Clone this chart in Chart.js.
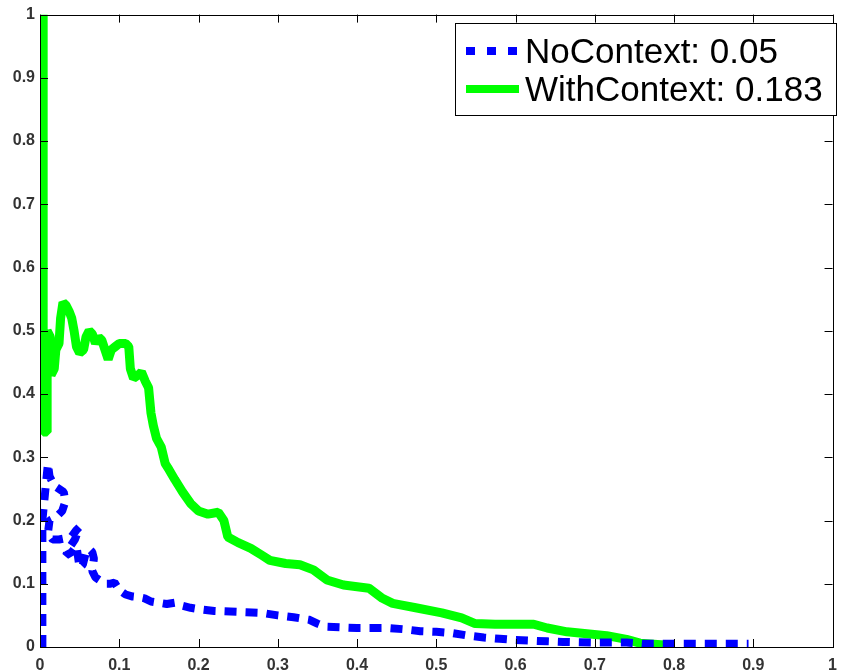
<!DOCTYPE html>
<html>
<head>
<meta charset="utf-8">
<title>NoContext vs WithContext</title>
<script src="https://cdn.jsdelivr.net/npm/chart.js"></script>
<style>
  html, body { margin: 0; padding: 0; background: #fff; }
  #wrap { width: 846px; height: 671px; }
</style>
</head>
<body>
<div id="wrap"><canvas id="grafico" width="846" height="671"></canvas></div>
<script>
// series labels
const seriesLabels = ['NoContext: 0.05', 'WithContext: 0.183'];

// tick labels
const xTickLabels = ['0', '0.1', '0.2', '0.3', '0.4', '0.5', '0.6', '0.7', '0.8', '0.9', '1'];
const yTickLabels = ['0', '0.1', '0.2', '0.3', '0.4', '0.5', '0.6', '0.7', '0.8', '0.9', '1'];

// NoContext (blue, dashed)
const noCtxX = [0.003, 0.003, 0.003, 0.010, 0.012, 0.018, 0.024, 0.030, 0.032, 0.028, 0.020, 0.012, 0.010, 0.016,
  0.024, 0.032, 0.040, 0.046, 0.050, 0.044, 0.036, 0.033, 0.040, 0.046, 0.050, 0.054, 0.058, 0.062, 0.066, 0.068,
  0.066, 0.070, 0.076, 0.082, 0.088, 0.094, 0.100, 0.108, 0.116, 0.124, 0.132, 0.140, 0.150, 0.160, 0.170, 0.180,
  0.190, 0.200, 0.220, 0.240, 0.260, 0.280, 0.300, 0.320, 0.340, 0.350, 0.360, 0.380, 0.400, 0.420, 0.440, 0.460,
  0.480, 0.500, 0.520, 0.540, 0.560, 0.580, 0.600, 0.620, 0.640, 0.660, 0.700, 0.740, 0.760, 0.800, 0.850, 0.894];
const noCtxY = [0, 0.10, 0.20, 0.29, 0.27, 0.255, 0.25, 0.245, 0.23, 0.215, 0.205, 0.20, 0.18, 0.17,
  0.17, 0.172, 0.175, 0.185, 0.19, 0.17, 0.155, 0.145, 0.15, 0.16, 0.125, 0.13, 0.15, 0.155, 0.15, 0.14,
  0.12, 0.11, 0.105, 0.10, 0.10, 0.102, 0.09, 0.083, 0.08, 0.079, 0.077, 0.072, 0.07, 0.068, 0.07, 0.065,
  0.062, 0.06, 0.057, 0.056, 0.055, 0.054, 0.05, 0.047, 0.043, 0.037, 0.032, 0.031, 0.030, 0.030, 0.030, 0.028,
  0.025, 0.024, 0.022, 0.018, 0.015, 0.013, 0.011, 0.010, 0.009, 0.008, 0.007, 0.007, 0.005, 0.005, 0.005, 0.005];

// WithContext (green, solid)
const withCtxX = [0.004, 0.004, 0.009, 0.009, 0.013, 0.014, 0.018, 0.020, 0.024, 0.026, 0.029, 0.033, 0.037, 0.040,
  0.043, 0.046, 0.050, 0.055, 0.058, 0.062, 0.066, 0.070, 0.074, 0.078, 0.082, 0.086, 0.090, 0.095, 0.100, 0.108,
  0.112, 0.114, 0.118, 0.124, 0.128, 0.133, 0.137, 0.140, 0.143, 0.147, 0.153, 0.158, 0.163, 0.170, 0.180, 0.190,
  0.200, 0.212, 0.225, 0.232, 0.237, 0.250, 0.266, 0.280, 0.290, 0.310, 0.328, 0.345, 0.362, 0.383, 0.415, 0.432,
  0.445, 0.474, 0.507, 0.532, 0.549, 0.574, 0.623, 0.640, 0.665, 0.690, 0.715, 0.740, 0.757, 0.788];
const withCtxY = [1, 0.34, 0.34, 0.50, 0.49, 0.43, 0.44, 0.47, 0.48, 0.52, 0.545, 0.54, 0.53, 0.52,
  0.50, 0.475, 0.465, 0.47, 0.49, 0.50, 0.495, 0.48, 0.49, 0.485, 0.47, 0.455, 0.47, 0.475, 0.48, 0.48,
  0.475, 0.44, 0.425, 0.43, 0.435, 0.42, 0.41, 0.37, 0.35, 0.33, 0.316, 0.29, 0.28, 0.265, 0.245, 0.227,
  0.215, 0.21, 0.213, 0.20, 0.174, 0.165, 0.156, 0.145, 0.137, 0.132, 0.13, 0.122, 0.106, 0.098, 0.093, 0.077,
  0.069, 0.062, 0.054, 0.046, 0.037, 0.036, 0.036, 0.030, 0.024, 0.021, 0.018, 0.012, 0.006, 0.003];

const toPoints = (xs, ys) => xs.map((x, i) => ({ x: x, y: ys[i] }));

// box, inward ticks on all four sides, legend inside the axes
const axesDecor = {
  id: 'axesDecor',
  afterDatasetsDraw(chart) {
    const ctx = chart.ctx;
    const a = chart.chartArea;
    const sx = chart.scales.x, sy = chart.scales.y;
    const tl = 8;
    ctx.save();
    ctx.strokeStyle = '#000';
    ctx.lineWidth = 1;
    ctx.beginPath();
    xTickLabels.forEach((_, i) => {
      const px = Math.round(sx.getPixelForValue(i / 10)) + 0.5;
      ctx.moveTo(px, a.bottom); ctx.lineTo(px, a.bottom - tl);
      ctx.moveTo(px, a.top); ctx.lineTo(px, a.top + tl);
    });
    yTickLabels.forEach((_, i) => {
      const py = Math.round(sy.getPixelForValue(i / 10)) + 0.5;
      ctx.moveTo(a.left, py); ctx.lineTo(a.left + tl, py);
      ctx.moveTo(a.right, py); ctx.lineTo(a.right - tl, py);
    });
    ctx.stroke();
    ctx.strokeRect(Math.round(a.left) + 0.5, Math.round(a.top) + 0.5,
      Math.round(a.right - a.left), Math.round(a.bottom - a.top));

    // legend
    const bx = 455, by = 23, bw = 381, bh = 92;
    ctx.fillStyle = '#fff';
    ctx.fillRect(bx, by, bw, bh);
    ctx.strokeRect(bx + 0.5, by + 0.5, bw, bh);
    ctx.font = '35px "Liberation Sans", Arial, sans-serif';
    ctx.textBaseline = 'middle';
    chart.data.datasets.forEach((ds, i) => {
      const cy = by + 28 + i * 38;
      ctx.save();
      ctx.strokeStyle = ds.borderColor;
      ctx.lineWidth = 8;
      ctx.setLineDash(i === 0 ? [9, 12] : []);
      ctx.beginPath();
      ctx.moveTo(466, cy); ctx.lineTo(519, cy);
      ctx.stroke();
      ctx.restore();
      ctx.fillStyle = '#000';
      ctx.fillText(ds.label, 525, cy + 2);
    });
    ctx.restore();
  }
};

new Chart(document.getElementById('grafico').getContext('2d'), {
  type: 'line',
  data: {
    datasets: [
      {
        label: seriesLabels[0],
        data: toPoints(noCtxX, noCtxY),
        borderColor: '#0000ff',
        borderWidth: 8,
        borderDash: [12, 9],
        borderCapStyle: 'butt',
        borderJoinStyle: 'bevel',
        pointRadius: 0,
        tension: 0,
        fill: false
      },
      {
        label: seriesLabels[1],
        data: toPoints(withCtxX, withCtxY),
        borderColor: '#00ff00',
        borderWidth: 9,
        borderCapStyle: 'butt',
        borderJoinStyle: 'bevel',
        pointRadius: 0,
        tension: 0,
        fill: false
      }
    ]
  },
  options: {
    responsive: false,
    animation: false,
    layout: { padding: { top: 14, right: 4, left: 0, bottom: 0 } },
    plugins: {
      legend: { display: false },
      tooltip: { enabled: false }
    },
    scales: {
      x: {
        type: 'linear',
        min: 0,
        max: 1,
        afterFit: s => { s.height = 24; },
        grid: { display: false, drawTicks: false },
        border: { display: false },
        ticks: {
          stepSize: 0.1,
          padding: 9,
          maxRotation: 0,
          autoSkip: false,
          color: '#333',
          font: { family: '"Liberation Sans", Arial, sans-serif', size: 16, weight: 'bold' },
          callback: (v, i) => xTickLabels[i]
        }
      },
      y: {
        min: 0,
        max: 1,
        afterFit: s => { s.width = 40; },
        grid: { display: false, drawTicks: false },
        border: { display: false },
        ticks: {
          stepSize: 0.1,
          padding: 5,
          autoSkip: false,
          color: '#333',
          font: { family: '"Liberation Sans", Arial, sans-serif', size: 16, weight: 'bold' },
          callback: (v, i) => yTickLabels[i]
        }
      }
    }
  },
  plugins: [axesDecor]
});
</script>
</body>
</html>
